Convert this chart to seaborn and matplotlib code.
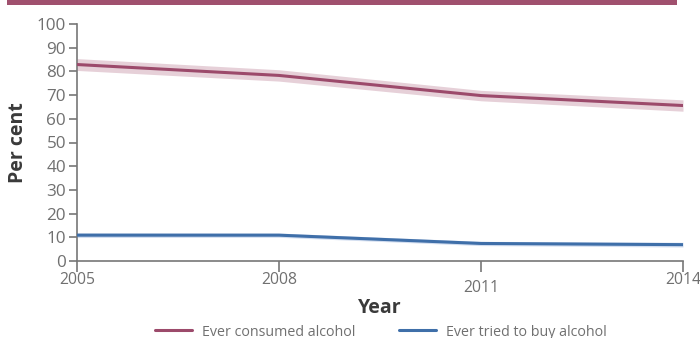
import matplotlib
matplotlib.use("Agg")
import matplotlib.pyplot as plt
from matplotlib.patches import Rectangle
from matplotlib.lines import Line2D
import seaborn as sns
import pandas as pd

years = [2005, 2008, 2011, 2014]
consumed = [82.9, 78.3, 69.8, 65.6]
consumed_lo = [80.4, 75.9, 67.6, 63.2]
consumed_hi = [85.4, 80.7, 72.0, 68.0]
bought = [10.9, 10.9, 7.4, 6.9]
bought_lo = [9.9, 10.0, 6.5, 5.9]
bought_hi = [11.9, 11.8, 8.3, 7.9]
series_names = ["Ever consumed alcohol", "Ever tried to buy alcohol"]
colors = ["#9c4a6b", "#3f6fa9"]
band_colors = ["#e6d0d8", "#d3def0"]
yticks = list(range(0, 101, 10))

sns.set_style("white")
plt.rcParams["font.family"] = ["Open Sans", "DejaVu Sans"]

df = pd.DataFrame({
    "Year": years * 2,
    "value": consumed + bought,
    "series": [series_names[0]] * 4 + [series_names[1]] * 4,
})

fig = plt.figure(figsize=(7, 3.38), dpi=100)
ax = fig.add_axes([77 / 700, 1 - 261 / 338, (683 - 77) / 700, (261 - 24) / 338])

ax.fill_between(years, consumed_lo, consumed_hi, color=band_colors[0], lw=0, zorder=1)
ax.fill_between(years, bought_lo, bought_hi, color=band_colors[1], lw=0, zorder=1)
sns.lineplot(data=df, x="Year", y="value", hue="series", palette=colors,
             linewidth=2.2, ax=ax, legend=False, zorder=3)

ax.set_xlim(2005, 2014)
ax.set_ylim(0, 100)
ax.set_xticks(years)
ax.set_xticklabels([str(y) for y in years])
ax.set_yticks(yticks)

for side in ["top", "right"]:
    ax.spines[side].set_visible(False)
for side in ["left", "bottom"]:
    ax.spines[side].set_color("#777777")
    ax.spines[side].set_linewidth(1.2)

ax.tick_params(axis="y", length=6, width=1.2, color="#777777", labelsize=12.3,
               labelcolor="#707070", pad=2, left=True)
ax.tick_params(axis="x", length=8, width=1.2, color="#777777", labelsize=11.3,
               labelcolor="#707070", pad=0, bottom=True)
ax.xaxis.get_major_ticks()[2].set_pad(6)

ax.set_xlabel("Year", fontsize=14, fontweight="bold", color="#3a3a3a", labelpad=1)
ax.set_ylabel("Per cent", fontsize=14, fontweight="bold", color="#3a3a3a", labelpad=6)

handles = [Line2D([0], [0], color=c, lw=2.2) for c in colors]
fig.legend(handles, series_names, loc="center", bbox_to_anchor=(381 / 700, 1 - 332 / 338),
           ncol=2, frameon=False, fontsize=10.3, handlelength=2.6, handletextpad=0.7,
           columnspacing=3.0, labelcolor="#707070")

fig.add_artist(Rectangle((7 / 700, 1 - 5 / 338), 670 / 700, 5 / 338,
                         transform=fig.transFigure, color="#a0506e", lw=0))

fig.savefig("out.png", dpi=100)
